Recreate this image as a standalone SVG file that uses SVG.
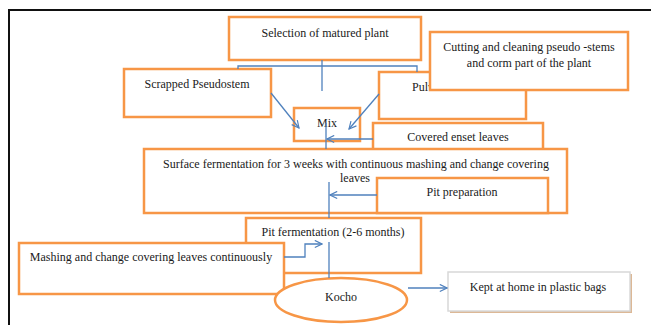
<svg xmlns="http://www.w3.org/2000/svg" width="651" height="325" viewBox="0 0 651 325">
<style>
.box{fill:#fff;stroke:#f79646;stroke-width:2.5}
.t{font-family:"Liberation Serif","Times New Roman",serif;font-size:12px;fill:#1a1a1a;text-anchor:middle}
.c{fill:none;stroke:#4f81bd;stroke-width:1.3}
.a{marker-end:url(#arr)}
</style>
<defs>
<marker id="arr" viewBox="0 0 10 10" refX="9" refY="5" markerWidth="9" markerHeight="9" markerUnits="userSpaceOnUse" orient="auto">
<path d="M1,1 L9,5 L1,9" fill="none" stroke="#4f81bd" stroke-width="1.3"/>
</marker>
</defs>
<rect width="651" height="325" fill="#fff"/>
<path d="M9,325 V10 H651" fill="none" stroke="#111" stroke-width="2"/>

<g id="selection"><rect class="box" x="229" y="17" width="192" height="43"/><text class="t" x="325" y="37">Selection of matured plant</text></g>
<g id="scrapped"><rect class="box" x="124" y="69" width="147" height="48"/><text class="t" x="197" y="88">Scrapped Pseudostem</text></g>
<g id="pulverized"><rect class="box" x="379" y="72" width="147" height="47"/><text class="t" x="412" y="91" style="text-anchor:start">Pulv</text></g>
<g id="cutting"><rect class="box" x="430" y="32" width="198" height="58"/><text class="t" x="529" y="51">Cutting and cleaning pseudo -stems</text><text class="t" x="529" y="67">and corm part of the plant</text></g>
<g id="mix"><rect class="box" x="294" y="108" width="66" height="33"/><text class="t" x="327" y="127">Mix</text></g>
<g id="covered"><rect class="box" x="373" y="123" width="170" height="40"/><text class="t" x="458" y="141">Covered enset leaves</text></g>
<g id="surface"><rect class="box" x="144" y="149" width="423" height="64"/><text class="t" x="356" y="168">Surface fermentation for 3 weeks with continuous mashing and change covering</text><text class="t" x="355" y="182">leaves</text></g>
<g id="pitprep"><rect class="box" x="377" y="178" width="171" height="35"/><text class="t" x="462" y="196">Pit preparation</text></g>
<g id="pitferm"><rect class="box" x="246" y="218" width="175" height="55"/><text class="t" x="333" y="236">Pit fermentation (2-6 months)</text></g>
<g id="mashing"><rect class="box" x="19" y="243" width="265" height="51"/><text class="t" x="151" y="261">Mashing and change covering leaves continuously</text></g>
<g id="kocho"><ellipse class="box" cx="341" cy="300" rx="66" ry="22"/><text class="t" x="341" y="301">Kocho</text></g>
<g id="kept"><rect x="450" y="274" width="182" height="39" fill="#dcb896"/><rect x="448" y="272" width="182" height="39" fill="#fff" stroke="#d8d8d8" stroke-width="1.5"/><text class="t" x="538" y="291">Kept at home in plastic bags</text></g>

<g id="connectors">
<path class="c" d="M238,69 V66 H417 V72"/>
<path class="c" d="M322,60 V91"/>
<path class="c a" d="M271,93 L299,128"/>
<path class="c a" d="M379,94 L349,129"/>
<path class="c a" d="M373,139 H327"/>
<path class="c" d="M326,123 V149"/>
<path class="c" d="M329,182 V218"/>
<path class="c a" d="M377,195 H330"/>
<path class="c a" d="M284,257 H305 V244 H322"/>
<path class="c" d="M329,242 V278"/>
<path class="c a" d="M408,288 H447"/>
</g>
</svg>
